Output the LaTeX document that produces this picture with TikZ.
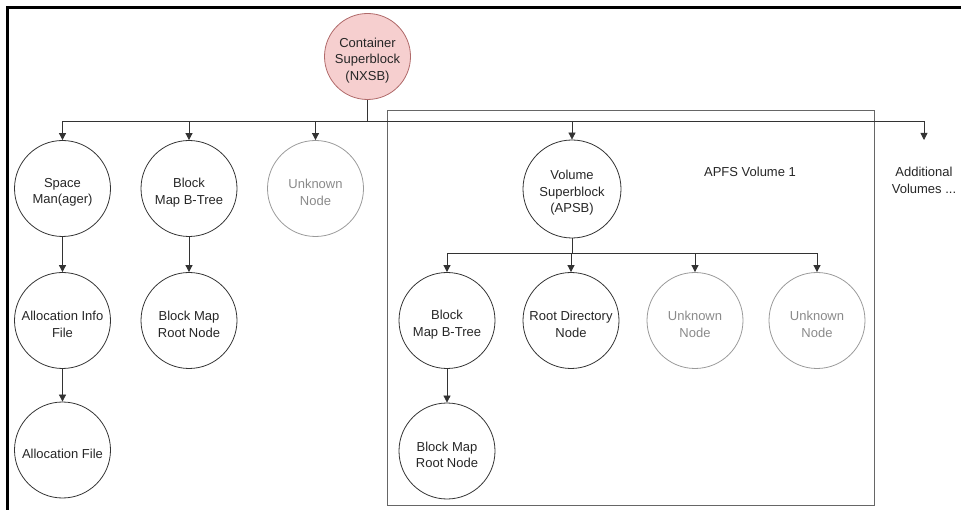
\documentclass[tikz,border=0pt]{standalone}
\usepackage{fontspec}
\setmainfont{Liberation Sans}
\usetikzlibrary{arrows.meta}
\definecolor{linec}{HTML}{333333}
\definecolor{unkc}{HTML}{9A9A9A}
\definecolor{unkt}{HTML}{8A8A8A}
\definecolor{boxc}{HTML}{666666}
\definecolor{nxfill}{HTML}{F6CFCF}
\definecolor{nxdraw}{HTML}{B06A6A}
\tikzset{
  lbl/.style={align=center, inner sep=0pt, font=\fontsize{13}{16.5}\selectfont, text=black!85},
  bubble/.style={circle, draw=linec, line width=0.8pt, minimum size=96pt, inner sep=0pt,
    label={[lbl, yshift=-4pt]center:{#1}}},
  unknown/.style={circle, draw=unkc, line width=0.8pt, minimum size=96pt, inner sep=0pt,
    label={[lbl, text=unkt, yshift=-4pt]center:{#1}}},
  arr/.style={draw=linec, line width=0.8pt, -{Triangle[width=7pt,length=7pt]}},
  conn/.style={draw=linec, line width=0.8pt}
}
\begin{document}
\begin{tikzpicture}[x=1pt,y=-1pt]
\useasboundingbox (0,0) rectangle (961,510);
% outer frame (top and left)
\draw[line width=3pt, black] (7.5,510) -- (7.5,7.5) -- (961,7.5);
% volume box
\draw[boxc, line width=1pt] (387,111) rectangle (874,505);
% nodes
\node[bubble={Container\\Superblock\\(NXSB)}, fill=nxfill, draw=nxdraw, minimum size=86pt] (nxsb) at (367.5,56.5) {};
\node[bubble={Space\\Man(ager)}] (sm) at (62.5,188.5) {};
\node[bubble={Block\\Map B-Tree}] (bmbt) at (189,188.5) {};
\node[unknown={Unknown\\Node}] (unk1) at (315.5,188.5) {};
\node[bubble={Allocation Info\\File}] (aif) at (62.5,320.5) {};
\node[bubble={Allocation File}] (afile) at (62.5,450) {};
\node[bubble={Block Map\\Root Node}] (bmrn) at (189,320.5) {};
\node[bubble={Volume\\Superblock\\(APSB)}, minimum size=98pt] (apsb) at (572,189) {};
\node[lbl] (apfs) at (750,172) {APFS Volume 1};
\node[lbl] (addv) at (924,180.5) {Additional\\Volumes ...};
\coordinate (addtip) at (924,140);
\node[bubble={Block\\Map B-Tree}] (vbmbt) at (447,320.5) {};
\node[bubble={Root Directory\\Node}] (rdn) at (571,320.5) {};
\node[unknown={Unknown\\Node}] (unk2) at (695,320.5) {};
\node[unknown={Unknown\\Node}] (unk3) at (817,320.5) {};
\node[bubble={Block Map\\Root Node}] (vbmrn) at (447,451) {};
% connectors
\coordinate (bus) at (nxsb.south |- 0,121);
\draw[conn] (nxsb.south) -- (bus);
\draw[arr] (bus) -| (sm.north);
\draw[arr] (bus) -| (bmbt.north);
\draw[arr] (bus) -| (unk1.north);
\draw[arr] (bus) -| (apsb.north);
\draw[arr] (bus) -| (addtip);
\draw[arr] (sm.south) -- (aif.north);
\draw[arr] (aif.south) -- (afile.north);
\draw[arr] (bmbt.south) -- (bmrn.north);
\coordinate (vbus) at (apsb.south |- 0,253);
\draw[conn] (apsb.south) -- (vbus);
\draw[arr] (vbus) -| (vbmbt.north);
\draw[arr] (vbus) -| (rdn.north);
\draw[arr] (vbus) -| (unk2.north);
\draw[arr] (vbus) -| (unk3.north);
\draw[arr] (vbmbt.south) -- (vbmrn.north);
\end{tikzpicture}
\end{document}
